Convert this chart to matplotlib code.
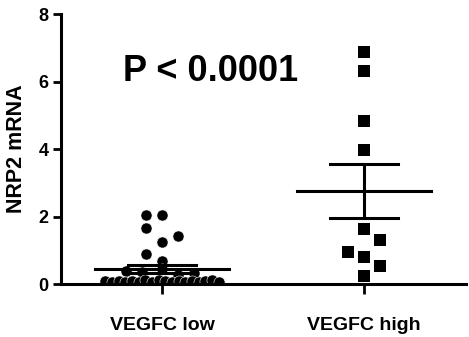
import numpy as np
import matplotlib
matplotlib.use('Agg')
import matplotlib.pyplot as plt

plt.rcParams['font.family'] = ['Liberation Sans', 'DejaVu Sans']
plt.rcParams['font.weight'] = 'bold'

# NRP2 mRNA values
groups = ['VEGFC low', 'VEGFC high']

low_vals = [2.04, 2.04, 1.67, 1.42, 1.25, 0.89, 0.68,
            0.45, 0.40, 0.36, 0.33, 0.28,
            0.08, 0.06, 0.10, 0.05, 0.09, 0.07, 0.11, 0.06, 0.12,
            0.08, 0.05, 0.09, 0.07, 0.10, 0.06, 0.08, 0.11, 0.07]
# horizontal scatter offsets (column scatter layout)
low_jitter = [-0.08, 0.0, -0.08, 0.08, 0.0, -0.08, 0.0,
              0.0, -0.18, -0.10, 0.16, 0.08,
              -0.28, -0.247, -0.214, -0.181, -0.148, -0.115, -0.082, -0.049, -0.016,
              0.016, 0.049, 0.082, 0.115, 0.148, 0.181, 0.214, 0.247, 0.28]

high_vals = [6.88, 6.31, 4.84, 3.98, 1.64, 1.30, 0.95, 0.81, 0.53, 0.24]
high_jitter = [0.0, 0.0, 0.0, 0.0, 0.0, 0.08, -0.08, 0.0, 0.08, 0.0]

p_text = 'P < 0.0001'

fig = plt.figure(figsize=(4.69, 3.37), dpi=100)
ax = fig.add_axes([0.130, 0.157, 0.8635, 0.801])

ax.scatter(1 + np.array(low_jitter), low_vals, s=64, marker='o', color='black',
           edgecolors='white', linewidths=0.4, zorder=2)
ax.scatter(2 + np.array(high_jitter), high_vals, s=64, marker='s', color='black',
           linewidths=0, zorder=2)

# mean and SEM
for xc, vals in [(1, low_vals), (2, high_vals)]:
    v = np.array(vals)
    m = v.mean()
    sem = v.std(ddof=1) / np.sqrt(len(v))
    ax.plot([xc - 0.33, xc + 0.33], [m, m], color='black', lw=2.2, zorder=3)
    ax.plot([xc - 0.17, xc + 0.17], [m + sem, m + sem], color='black', lw=2.2, zorder=3)
    ax.plot([xc - 0.17, xc + 0.17], [m - sem, m - sem], color='black', lw=2.2, zorder=3)
    ax.plot([xc, xc], [m - sem, m + sem], color='black', lw=2.2, zorder=3)

ax.text(1.243, 6.3, p_text, fontsize=26, fontweight='bold', ha='center', va='center')

ax.set_xlim(0.5, 2.505)
ax.set_ylim(0, 8)
ax.set_yticks([0, 2, 4, 6, 8])
ax.set_xticks([1, 2])
ax.set_xticklabels(groups, fontsize=14, fontweight='bold')
ax.tick_params(axis='y', labelsize=13, width=2, length=6, pad=3)
ax.tick_params(axis='x', width=2, length=7, pad=17)
for lbl in ax.get_yticklabels():
    lbl.set_fontweight('bold')

ax.set_ylabel('NRP2 mRNA', fontsize=15.5, fontweight='bold')
ax.yaxis.set_label_coords(-0.084, 0.5)

ax.spines['top'].set_visible(False)
ax.spines['right'].set_visible(False)
ax.spines['left'].set_linewidth(2.2)
ax.spines['bottom'].set_linewidth(2.2)
ax.spines['bottom'].set_zorder(4)

fig.savefig('out.png', dpi=100)
